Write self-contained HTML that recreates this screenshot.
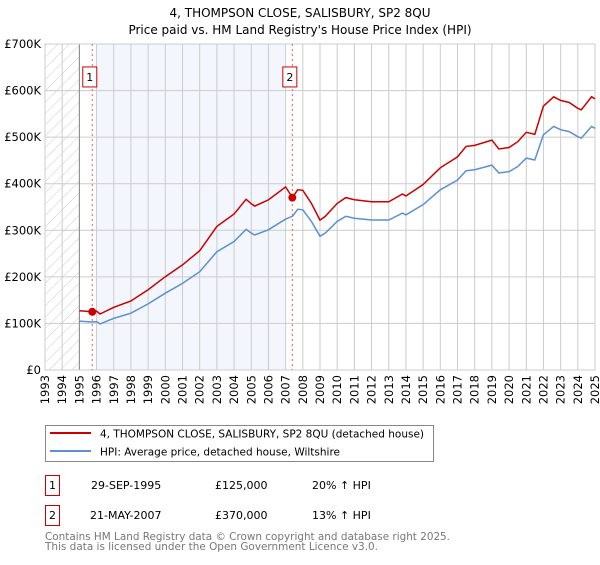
<!DOCTYPE html>
<html><head><meta charset="utf-8"><style>
body{margin:0;background:#fff;}
svg text{font-family:"DejaVu Sans","Liberation Sans",sans-serif;}
</style></head><body>
<svg id="chart" width="600" height="560" viewBox="0 0 600 560" xmlns="http://www.w3.org/2000/svg">
<defs><pattern id="hatch" width="8" height="8" patternUnits="userSpaceOnUse" patternTransform="rotate(45)"><line x1="0" y1="0" x2="0" y2="8" stroke="#ccc" stroke-width="1"/></pattern></defs>
<text x="300" y="17" text-anchor="middle" font-size="12">4, THOMPSON CLOSE, SALISBURY, SP2 8QU</text>
<text x="300" y="34" text-anchor="middle" font-size="12">Price paid vs. HM Land Registry's House Price Index (HPI)</text>
<g id="plot"></g>
<g>
<rect x="45.5" y="425.5" width="388" height="36" fill="#fff" stroke="#888"/>
<line x1="50" y1="433" x2="91" y2="433" stroke="#cc0000" stroke-width="2"/>
<text x="100" y="437.5" font-size="11" textLength="324" lengthAdjust="spacingAndGlyphs">4, THOMPSON CLOSE, SALISBURY, SP2 8QU (detached house)</text>
<line x1="50" y1="451" x2="91" y2="451" stroke="#5b8fd6" stroke-width="2"/>
<text x="100" y="455.5" font-size="11" textLength="240" lengthAdjust="spacingAndGlyphs">HPI: Average price, detached house, Wiltshire</text>
</g>
<g font-size="11">
<rect x="45.5" y="475.5" width="14" height="20" fill="#fff" stroke="#cc0000"/><text x="52.5" y="489" text-anchor="middle">1</text>
<text x="91" y="489">29-SEP-1995</text><text x="215" y="489">£125,000</text><text x="312" y="489">20% ↑ HPI</text>
<rect x="45.5" y="505.5" width="14" height="20" fill="#fff" stroke="#cc0000"/><text x="52.5" y="519" text-anchor="middle">2</text>
<text x="90" y="519">21-MAY-2007</text><text x="215" y="519">£370,000</text><text x="312" y="519">13% ↑ HPI</text>
</g>
<text x="45" y="540" font-size="11" fill="#777" textLength="405" lengthAdjust="spacingAndGlyphs">Contains HM Land Registry data © Crown copyright and database right 2025.</text>
<text x="45" y="550" font-size="11" fill="#777" textLength="333" lengthAdjust="spacingAndGlyphs">This data is licensed under the Open Government Licence v3.0.</text>
</svg>
<script>
const hpiYears=[1995,1995.75,1996,1996.2,1997,1998,1999,2000,2001,2002,2003,2004,2004.7,2005,2005.2,2006,2007,2007.4,2007.7,2008,2008.5,2009,2009.3,2010,2010.5,2011,2012,2013,2013.8,2014,2015,2016,2017,2017.5,2018,2019,2019.4,2020,2020.5,2021,2021.5,2022,2022.6,2023,2023.5,2024,2024.2,2024.8,2025];
const hpiValues=[105,103,104,99,111,122,142,165,186,211,254,276,302,294,290,301,324,330,345,344,319,287,294,319,330,326,322,322,337,333,355,387,408,428,430,440,423,426,437,455,451,505,523,516,512,501,498,523,519];
const saleYears=[1995.75,2007.39];
const saleValues=[125,370];
const saleLabels=["1","2"];
const yTicks=[0,100,200,300,400,500,600,700];
const yTickLabels=["£0","£100K","£200K","£300K","£400K","£500K","£600K","£700K"];
const xStart=1993,xEnd=2025;
const X=y=>45+(y-xStart)*(550/(xEnd-xStart));
const Y=v=>370-v*(326/700);
const NS="http://www.w3.org/2000/svg";
const g=document.getElementById('plot');
function mk(t,a,p){const e=document.createElementNS(NS,t);for(const k in a)e.setAttribute(k,a[k]);(p||g).appendChild(e);return e;}
const hpiAt=t=>{for(let i=0;i<hpiYears.length-1;i++){if(t<=hpiYears[i+1]){const f=(t-hpiYears[i])/(hpiYears[i+1]-hpiYears[i]);return hpiValues[i]+f*(hpiValues[i+1]-hpiValues[i]);}}return hpiValues[hpiValues.length-1];};
let e=mk('rect',{x:X(xStart),y:Y(700),width:X(1995)-X(xStart),height:Y(0)-Y(700),fill:'url(#hatch)'});


e=mk('rect',{x:X(1996),y:Y(700),width:X(2007)-X(1996),height:Y(0)-Y(700),fill:'#f3f6fd'});


for(let yr=xStart;yr<=xEnd;yr++){
 e=mk('line',{x1:X(yr),x2:X(yr),y1:Y(700),y2:Y(0),stroke:'#ccc','stroke-width':1});
 
 
 e=mk('text',{transform:`translate(${X(yr)+4},${Y(0)+5}) rotate(-90)`,'text-anchor':'end','font-size':11.5});
 e.textContent=yr;
 
 
}
yTicks.forEach((v,i)=>{
 e=mk('line',{x1:X(xStart),x2:X(xEnd),y1:Y(v),y2:Y(v),stroke:'#ccc','stroke-width':1});
 
 
 e=mk('text',{x:41,y:Y(v)+4,'text-anchor':'end','font-size':11.5});
 e.textContent=yTickLabels[i];
 
 
});
e=mk('line',{x1:X(1995),x2:X(1995),y1:Y(700),y2:Y(0),stroke:'#888','stroke-width':1});


e=mk('rect',{x:X(xStart),y:Y(700),width:X(xEnd)-X(xStart),height:Y(0)-Y(700),fill:'none',stroke:'#ccc'});


saleYears.forEach((sy,i)=>{
 e=mk('line',{x1:X(sy),x2:X(sy),y1:Y(700),y2:Y(0),stroke:'#e06060','stroke-width':1,'stroke-dasharray':'2,3'});
 
 
 e=mk('rect',{x:X(sy)-9.5,y:Y(640)-5,width:14,height:20,fill:'#fff',stroke:'#cc0000'});
 
 
 e=mk('text',{x:X(sy)-2.5,y:Y(640)+9,'text-anchor':'middle','font-size':11});
 e.textContent=saleLabels[i];
 
 
});
const hp=hpiYears.map((t,i)=>`${X(t).toFixed(1)},${Y(hpiValues[i]).toFixed(1)}`).join(' ');
e=mk('polyline',{points:hp,fill:'none',stroke:'#5b8fd6','stroke-width':1.5});


const rp=hpiYears.map((t,i)=>{let k=0;for(let j=0;j<saleYears.length;j++)if(t>=saleYears[j]-0.01)k=j;const f=saleValues[k]/hpiAt(saleYears[k]);return `${X(t).toFixed(1)},${Y(hpiValues[i]*f).toFixed(1)}`;}).join(' ');
e=mk('polyline',{points:rp,fill:'none',stroke:'#cc0000','stroke-width':1.5});


saleYears.forEach((sy,i)=>{
 e=mk('circle',{cx:X(sy),cy:Y(saleValues[i]),r:4,fill:'#cc0000'});
 
 
});
</script>
</body></html>
